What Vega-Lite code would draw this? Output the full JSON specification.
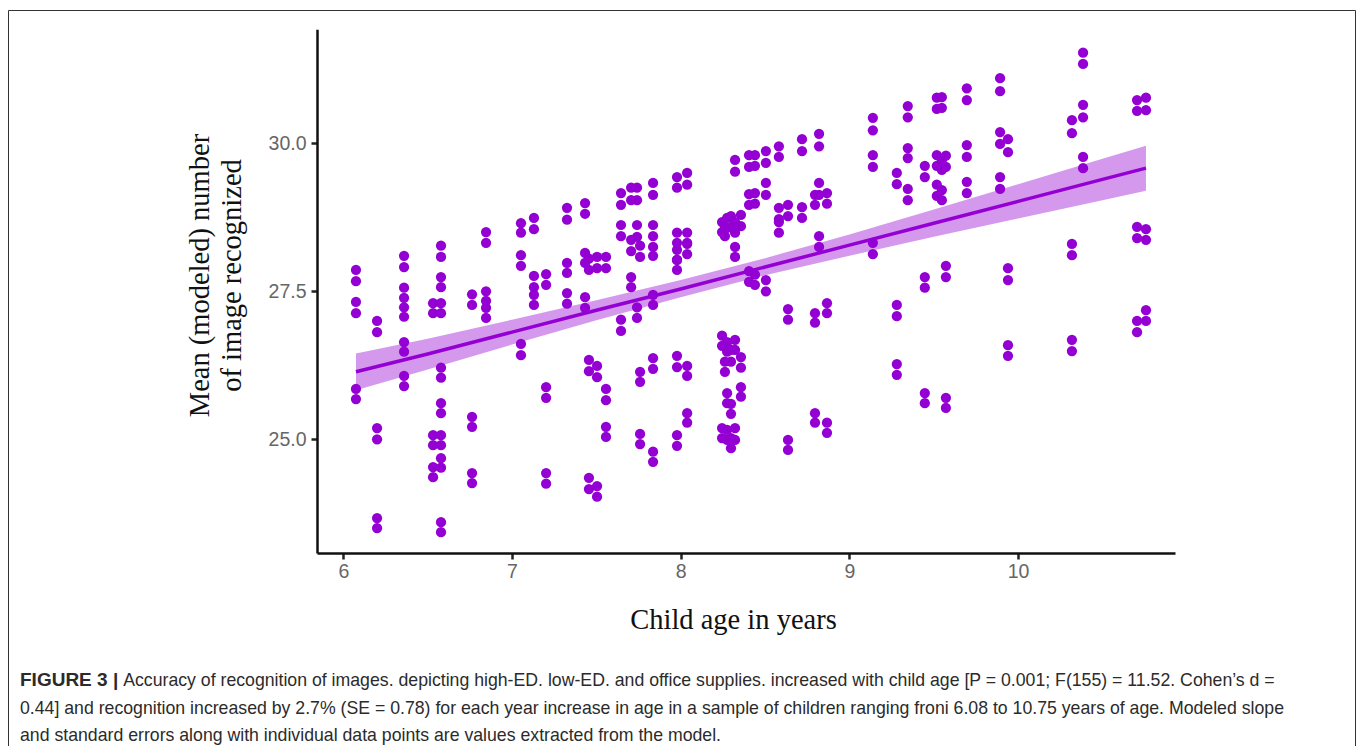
{
  "$schema": "https://vega.github.io/schema/vega-lite/v6.json",
  "width": 1347,
  "height": 740,
  "autosize": {"type": "none"},
  "padding": {"left": 8, "top": 10, "right": 2, "bottom": 0},
  "background": "white",
  "config": {"view": {"stroke": "#333", "strokeWidth": 1}},
  "title": {
    "text": "FIGURE 3 |",
    "subtitle": [
      "\u200b\u00a0\u00a0\u00a0\u00a0\u00a0\u00a0\u00a0\u00a0\u00a0\u00a0\u00a0\u00a0\u00a0\u00a0\u00a0\u00a0\u00a0\u00a0\u00a0\u00a0\u00a0Accuracy of recognition of images. depicting high-ED. low-ED. and office supplies. increased with child age [P = 0.001; F(155) = 11.52. Cohen\u2019s d =",
      "0.44] and recognition increased by 2.7% (SE = 0.78) for each year increase in age in a sample of children ranging froni 6.08 to 10.75 years of age. Modeled slope",
      "and standard errors along with individual data points are values extracted from the model."
    ],
    "orient": "bottom",
    "anchor": "start",
    "frame": "group",
    "offset": -79,
    "dx": 12,
    "font": "Liberation Sans",
    "fontSize": 19,
    "fontWeight": "bold",
    "color": "#2b2b2b",
    "subtitleFont": "Liberation Sans",
    "subtitleFontSize": 17.7,
    "subtitleFontWeight": "normal",
    "subtitleColor": "#2b2b2b",
    "subtitleLineHeight": 27.5,
    "subtitlePadding": -18
  },
  "datasets": {
    "fit": [
      {"age": 6.075, "score": 26.14, "lo": 25.83, "hi": 26.45},
      {"age": 6.5, "score": 26.44, "lo": 26.18, "hi": 26.70},
      {"age": 7.0, "score": 26.81, "lo": 26.60, "hi": 27.02},
      {"age": 7.5, "score": 27.18, "lo": 27.01, "hi": 27.35},
      {"age": 8.0, "score": 27.54, "lo": 27.40, "hi": 27.69},
      {"age": 8.5, "score": 27.91, "lo": 27.77, "hi": 28.06},
      {"age": 9.0, "score": 28.28, "lo": 28.10, "hi": 28.46},
      {"age": 9.5, "score": 28.65, "lo": 28.42, "hi": 28.88},
      {"age": 10.0, "score": 29.02, "lo": 28.73, "hi": 29.31},
      {"age": 10.5, "score": 29.39, "lo": 29.04, "hi": 29.74},
      {"age": 10.758, "score": 29.58, "lo": 29.20, "hi": 29.96}
    ],
    "pts": [
      {"age": 6.075, "score": 27.86}, {"age": 6.075, "score": 27.67}, {"age": 6.075, "score": 27.32}, {"age": 6.075, "score": 27.13}, {"age": 6.075, "score": 25.85}, {"age": 6.075, "score": 25.68},
      {"age": 6.2, "score": 27.00}, {"age": 6.2, "score": 26.81}, {"age": 6.2, "score": 25.19}, {"age": 6.2, "score": 25.00}, {"age": 6.2, "score": 23.67}, {"age": 6.2, "score": 23.50},
      {"age": 6.36, "score": 28.10}, {"age": 6.36, "score": 27.91}, {"age": 6.36, "score": 27.56}, {"age": 6.36, "score": 27.39}, {"age": 6.36, "score": 27.23}, {"age": 6.36, "score": 27.07}, {"age": 6.36, "score": 26.64}, {"age": 6.36, "score": 26.48}, {"age": 6.36, "score": 26.07}, {"age": 6.36, "score": 25.90},
      {"age": 6.532, "score": 27.30}, {"age": 6.532, "score": 27.13}, {"age": 6.532, "score": 25.07}, {"age": 6.532, "score": 24.90}, {"age": 6.532, "score": 24.53}, {"age": 6.532, "score": 24.36},
      {"age": 6.579, "score": 28.27}, {"age": 6.579, "score": 28.08}, {"age": 6.579, "score": 27.74}, {"age": 6.579, "score": 27.57}, {"age": 6.579, "score": 27.30}, {"age": 6.579, "score": 27.13}, {"age": 6.579, "score": 26.21}, {"age": 6.579, "score": 26.04}, {"age": 6.579, "score": 25.61}, {"age": 6.579, "score": 25.44}, {"age": 6.579, "score": 25.07}, {"age": 6.579, "score": 24.90}, {"age": 6.579, "score": 24.68}, {"age": 6.579, "score": 24.52}, {"age": 6.579, "score": 23.60}, {"age": 6.579, "score": 23.43},
      {"age": 6.763, "score": 27.45}, {"age": 6.763, "score": 27.27}, {"age": 6.763, "score": 25.38}, {"age": 6.763, "score": 25.21}, {"age": 6.763, "score": 24.43}, {"age": 6.763, "score": 24.26},
      {"age": 6.846, "score": 28.50}, {"age": 6.846, "score": 28.32}, {"age": 6.846, "score": 27.50}, {"age": 6.846, "score": 27.34}, {"age": 6.846, "score": 27.22}, {"age": 6.846, "score": 27.05},
      {"age": 7.053, "score": 28.65}, {"age": 7.053, "score": 28.49}, {"age": 7.053, "score": 28.11}, {"age": 7.053, "score": 27.93}, {"age": 7.053, "score": 26.61}, {"age": 7.053, "score": 26.42},
      {"age": 7.13, "score": 28.74}, {"age": 7.13, "score": 28.55}, {"age": 7.13, "score": 27.76}, {"age": 7.13, "score": 27.57}, {"age": 7.13, "score": 27.44}, {"age": 7.13, "score": 27.27},
      {"age": 7.202, "score": 27.79}, {"age": 7.202, "score": 27.61}, {"age": 7.202, "score": 25.88}, {"age": 7.202, "score": 25.70}, {"age": 7.202, "score": 24.43}, {"age": 7.202, "score": 24.25},
      {"age": 7.326, "score": 28.91}, {"age": 7.326, "score": 28.71}, {"age": 7.326, "score": 27.98}, {"age": 7.326, "score": 27.81}, {"age": 7.326, "score": 27.47}, {"age": 7.326, "score": 27.29},
      {"age": 7.433, "score": 28.99}, {"age": 7.433, "score": 28.81}, {"age": 7.433, "score": 28.15}, {"age": 7.433, "score": 27.98}, {"age": 7.433, "score": 27.40}, {"age": 7.433, "score": 27.22},
      {"age": 7.456, "score": 28.05}, {"age": 7.456, "score": 27.86}, {"age": 7.456, "score": 26.34}, {"age": 7.456, "score": 26.15}, {"age": 7.456, "score": 24.35}, {"age": 7.456, "score": 24.16},
      {"age": 7.504, "score": 28.08}, {"age": 7.504, "score": 27.89}, {"age": 7.504, "score": 26.24}, {"age": 7.504, "score": 26.05}, {"age": 7.504, "score": 24.21}, {"age": 7.504, "score": 24.03},
      {"age": 7.557, "score": 28.08}, {"age": 7.557, "score": 27.89}, {"age": 7.557, "score": 25.85}, {"age": 7.557, "score": 25.66}, {"age": 7.557, "score": 25.21}, {"age": 7.557, "score": 25.04},
      {"age": 7.646, "score": 29.16}, {"age": 7.646, "score": 28.96}, {"age": 7.646, "score": 28.62}, {"age": 7.646, "score": 28.43}, {"age": 7.646, "score": 27.02}, {"age": 7.646, "score": 26.83},
      {"age": 7.706, "score": 29.25}, {"age": 7.706, "score": 29.04}, {"age": 7.706, "score": 28.37}, {"age": 7.706, "score": 28.18}, {"age": 7.706, "score": 27.74}, {"age": 7.706, "score": 27.57},
      {"age": 7.741, "score": 29.25}, {"age": 7.741, "score": 29.04}, {"age": 7.741, "score": 28.62}, {"age": 7.741, "score": 28.42}, {"age": 7.741, "score": 27.23}, {"age": 7.741, "score": 27.05},
      {"age": 7.759, "score": 28.27}, {"age": 7.759, "score": 28.08}, {"age": 7.759, "score": 26.14}, {"age": 7.759, "score": 25.97}, {"age": 7.759, "score": 25.09}, {"age": 7.759, "score": 24.92},
      {"age": 7.836, "score": 29.33}, {"age": 7.836, "score": 29.13}, {"age": 7.836, "score": 28.62}, {"age": 7.836, "score": 28.43}, {"age": 7.836, "score": 28.25}, {"age": 7.836, "score": 28.10}, {"age": 7.836, "score": 27.44}, {"age": 7.836, "score": 27.27}, {"age": 7.836, "score": 26.37}, {"age": 7.836, "score": 26.19}, {"age": 7.836, "score": 24.79}, {"age": 7.836, "score": 24.62},
      {"age": 7.978, "score": 29.43}, {"age": 7.978, "score": 29.25}, {"age": 7.978, "score": 28.49}, {"age": 7.978, "score": 28.32}, {"age": 7.978, "score": 28.20}, {"age": 7.978, "score": 28.03}, {"age": 7.978, "score": 28.03}, {"age": 7.978, "score": 27.86}, {"age": 7.978, "score": 26.41}, {"age": 7.978, "score": 26.22}, {"age": 7.978, "score": 25.07}, {"age": 7.978, "score": 24.89},
      {"age": 8.038, "score": 29.50}, {"age": 8.038, "score": 29.30}, {"age": 8.038, "score": 28.49}, {"age": 8.038, "score": 28.30}, {"age": 8.038, "score": 28.32}, {"age": 8.038, "score": 28.13}, {"age": 8.038, "score": 26.24}, {"age": 8.038, "score": 26.07}, {"age": 8.038, "score": 25.44}, {"age": 8.038, "score": 25.28},
      {"age": 8.245, "score": 28.67}, {"age": 8.245, "score": 28.50}, {"age": 8.245, "score": 26.75}, {"age": 8.245, "score": 26.58}, {"age": 8.245, "score": 25.19}, {"age": 8.245, "score": 25.02},
      {"age": 8.275, "score": 28.74}, {"age": 8.275, "score": 28.57}, {"age": 8.275, "score": 26.64}, {"age": 8.275, "score": 26.48}, {"age": 8.275, "score": 25.78}, {"age": 8.275, "score": 25.61}, {"age": 8.275, "score": 25.16}, {"age": 8.275, "score": 24.99},
      {"age": 8.298, "score": 28.77}, {"age": 8.298, "score": 28.59}, {"age": 8.298, "score": 26.51}, {"age": 8.298, "score": 26.31}, {"age": 8.298, "score": 25.60}, {"age": 8.298, "score": 25.43}, {"age": 8.298, "score": 25.02}, {"age": 8.298, "score": 24.85},
      {"age": 8.322, "score": 29.72}, {"age": 8.322, "score": 29.52}, {"age": 8.322, "score": 28.67}, {"age": 8.322, "score": 28.49}, {"age": 8.322, "score": 28.25}, {"age": 8.322, "score": 28.08}, {"age": 8.322, "score": 26.68}, {"age": 8.322, "score": 26.51}, {"age": 8.322, "score": 25.19}, {"age": 8.322, "score": 24.99},
      {"age": 8.357, "score": 28.79}, {"age": 8.357, "score": 28.60}, {"age": 8.357, "score": 26.39}, {"age": 8.357, "score": 26.21}, {"age": 8.357, "score": 25.88}, {"age": 8.357, "score": 25.72},
      {"age": 8.262, "score": 26.31}, {"age": 8.262, "score": 26.14}, {"age": 8.262, "score": 28.57}, {"age": 8.262, "score": 28.43},
      {"age": 8.405, "score": 29.80}, {"age": 8.405, "score": 29.60}, {"age": 8.405, "score": 29.14}, {"age": 8.405, "score": 28.96}, {"age": 8.405, "score": 27.84}, {"age": 8.405, "score": 27.66},
      {"age": 8.44, "score": 29.80}, {"age": 8.44, "score": 29.62}, {"age": 8.44, "score": 29.16}, {"age": 8.44, "score": 28.98}, {"age": 8.44, "score": 27.78}, {"age": 8.44, "score": 27.61},
      {"age": 8.505, "score": 29.87}, {"age": 8.505, "score": 29.67}, {"age": 8.505, "score": 29.33}, {"age": 8.505, "score": 29.13}, {"age": 8.505, "score": 27.69}, {"age": 8.505, "score": 27.50},
      {"age": 8.582, "score": 29.95}, {"age": 8.582, "score": 29.77}, {"age": 8.582, "score": 28.91}, {"age": 8.582, "score": 28.72}, {"age": 8.582, "score": 28.67}, {"age": 8.582, "score": 28.49},
      {"age": 8.636, "score": 28.96}, {"age": 8.636, "score": 28.77}, {"age": 8.636, "score": 27.20}, {"age": 8.636, "score": 27.02}, {"age": 8.636, "score": 24.99}, {"age": 8.636, "score": 24.82},
      {"age": 8.719, "score": 30.07}, {"age": 8.719, "score": 29.87}, {"age": 8.719, "score": 28.92}, {"age": 8.719, "score": 28.74},
      {"age": 8.796, "score": 29.13}, {"age": 8.796, "score": 28.96}, {"age": 8.796, "score": 27.13}, {"age": 8.796, "score": 26.97}, {"age": 8.796, "score": 25.44}, {"age": 8.796, "score": 25.28},
      {"age": 8.82, "score": 30.16}, {"age": 8.82, "score": 29.95}, {"age": 8.82, "score": 29.33}, {"age": 8.82, "score": 29.13}, {"age": 8.82, "score": 28.43}, {"age": 8.82, "score": 28.25},
      {"age": 8.867, "score": 29.16}, {"age": 8.867, "score": 28.98}, {"age": 8.867, "score": 27.30}, {"age": 8.867, "score": 27.13}, {"age": 8.867, "score": 25.28}, {"age": 8.867, "score": 25.11},
      {"age": 9.139, "score": 30.43}, {"age": 9.139, "score": 30.22}, {"age": 9.139, "score": 29.80}, {"age": 9.139, "score": 29.60}, {"age": 9.139, "score": 28.32}, {"age": 9.139, "score": 28.13},
      {"age": 9.281, "score": 29.50}, {"age": 9.281, "score": 29.31}, {"age": 9.281, "score": 27.27}, {"age": 9.281, "score": 27.08}, {"age": 9.281, "score": 26.27}, {"age": 9.281, "score": 26.09},
      {"age": 9.346, "score": 30.63}, {"age": 9.346, "score": 30.44}, {"age": 9.346, "score": 29.92}, {"age": 9.346, "score": 29.75}, {"age": 9.346, "score": 29.23}, {"age": 9.346, "score": 29.04},
      {"age": 9.447, "score": 29.62}, {"age": 9.447, "score": 29.43}, {"age": 9.447, "score": 27.74}, {"age": 9.447, "score": 27.56}, {"age": 9.447, "score": 25.78}, {"age": 9.447, "score": 25.61},
      {"age": 9.518, "score": 30.77}, {"age": 9.518, "score": 30.58}, {"age": 9.518, "score": 29.80}, {"age": 9.518, "score": 29.62}, {"age": 9.518, "score": 29.30}, {"age": 9.518, "score": 29.11},
      {"age": 9.548, "score": 30.78}, {"age": 9.548, "score": 30.60}, {"age": 9.548, "score": 29.72}, {"age": 9.548, "score": 29.55}, {"age": 9.548, "score": 29.21}, {"age": 9.548, "score": 29.04},
      {"age": 9.572, "score": 29.79}, {"age": 9.572, "score": 29.60}, {"age": 9.572, "score": 27.93}, {"age": 9.572, "score": 27.74}, {"age": 9.572, "score": 25.70}, {"age": 9.572, "score": 25.53},
      {"age": 9.696, "score": 30.93}, {"age": 9.696, "score": 30.73}, {"age": 9.696, "score": 29.97}, {"age": 9.696, "score": 29.77}, {"age": 9.696, "score": 29.35}, {"age": 9.696, "score": 29.16},
      {"age": 9.893, "score": 31.10}, {"age": 9.893, "score": 30.88}, {"age": 9.893, "score": 30.19}, {"age": 9.893, "score": 29.99}, {"age": 9.893, "score": 29.43}, {"age": 9.893, "score": 29.23},
      {"age": 9.94, "score": 30.07}, {"age": 9.94, "score": 29.85}, {"age": 9.94, "score": 27.89}, {"age": 9.94, "score": 27.69}, {"age": 9.94, "score": 26.59}, {"age": 9.94, "score": 26.41},
      {"age": 10.319, "score": 30.39}, {"age": 10.319, "score": 30.17}, {"age": 10.319, "score": 28.30}, {"age": 10.319, "score": 28.11}, {"age": 10.319, "score": 26.68}, {"age": 10.319, "score": 26.49},
      {"age": 10.385, "score": 31.53}, {"age": 10.385, "score": 31.34}, {"age": 10.385, "score": 30.65}, {"age": 10.385, "score": 30.44}, {"age": 10.385, "score": 29.77}, {"age": 10.385, "score": 29.58},
      {"age": 10.705, "score": 30.73}, {"age": 10.705, "score": 30.55}, {"age": 10.705, "score": 28.59}, {"age": 10.705, "score": 28.40}, {"age": 10.705, "score": 27.00}, {"age": 10.705, "score": 26.81},
      {"age": 10.758, "score": 30.77}, {"age": 10.758, "score": 30.56}, {"age": 10.758, "score": 28.55}, {"age": 10.758, "score": 28.37}, {"age": 10.758, "score": 27.18}, {"age": 10.758, "score": 27.00}
    ]
  },
  "layer": [
    {
      "data": {"name": "fit"},
      "mark": {"type": "area", "color": "#9400d3", "opacity": 0.4},
      "encoding": {
        "x": {"field": "age", "type": "quantitative",
          "scale": {"domain": [5.844, 10.93], "range": [309, 1167], "nice": false, "zero": false},
          "axis": {"orient": "bottom", "offset": -197, "values": [6, 7, 8, 9, 10], "format": "d", "grid": false,
            "title": "Child age in years", "titleFont": "Liberation Serif", "titleFontSize": 28.5, "titleFontWeight": "normal", "titleColor": "#111",
            "titleX": 725, "titleY": 75, "titleBaseline": "alphabetic", "titleAlign": "center",
            "labelFont": "Liberation Sans", "labelFontSize": 19.5, "labelColor": "#666", "labelPadding": 3,
            "tickSize": 6, "tickWidth": 2.5, "tickColor": "#222", "domainColor": "#111", "domainWidth": 2.5}},
        "y": {"field": "lo", "type": "quantitative",
          "scale": {"domain": [23.079, 31.926], "range": [543, 19.3], "nice": false, "zero": false},
          "axis": {"orient": "left", "offset": -309, "values": [25, 27.5, 30], "format": ".1f", "grid": false,
            "title": ["Mean (modeled) number", "of image recognized"], "titleFont": "Liberation Serif", "titleFontSize": 28.5, "titleFontWeight": "normal", "titleColor": "#111",
            "titleAngle": -90, "titleX": -118, "titleY": 265, "titleBaseline": "middle", "titleAlign": "center", "titleLineHeight": 32,
            "labelFont": "Liberation Sans", "labelFontSize": 19.5, "labelColor": "#666", "labelPadding": 5,
            "tickSize": 6, "tickWidth": 2.5, "tickColor": "#222", "domainColor": "#111", "domainWidth": 2.5}},
        "y2": {"field": "hi"}
      }
    },
    {
      "data": {"name": "pts"},
      "mark": {"type": "circle", "color": "#9400d3", "opacity": 1, "size": 105},
      "encoding": {
        "x": {"field": "age", "type": "quantitative", "scale": {"domain": [5.844, 10.93], "range": [309, 1167], "nice": false, "zero": false}},
        "y": {"field": "score", "type": "quantitative", "scale": {"domain": [23.079, 31.926], "range": [543, 19.3], "nice": false, "zero": false}}
      }
    },
    {
      "data": {"name": "fit"},
      "mark": {"type": "line", "color": "#9400d3", "strokeWidth": 3.5},
      "encoding": {
        "x": {"field": "age", "type": "quantitative", "scale": {"domain": [5.844, 10.93], "range": [309, 1167], "nice": false, "zero": false}},
        "y": {"field": "score", "type": "quantitative", "scale": {"domain": [23.079, 31.926], "range": [543, 19.3], "nice": false, "zero": false}}
      }
    }
  ]
}
